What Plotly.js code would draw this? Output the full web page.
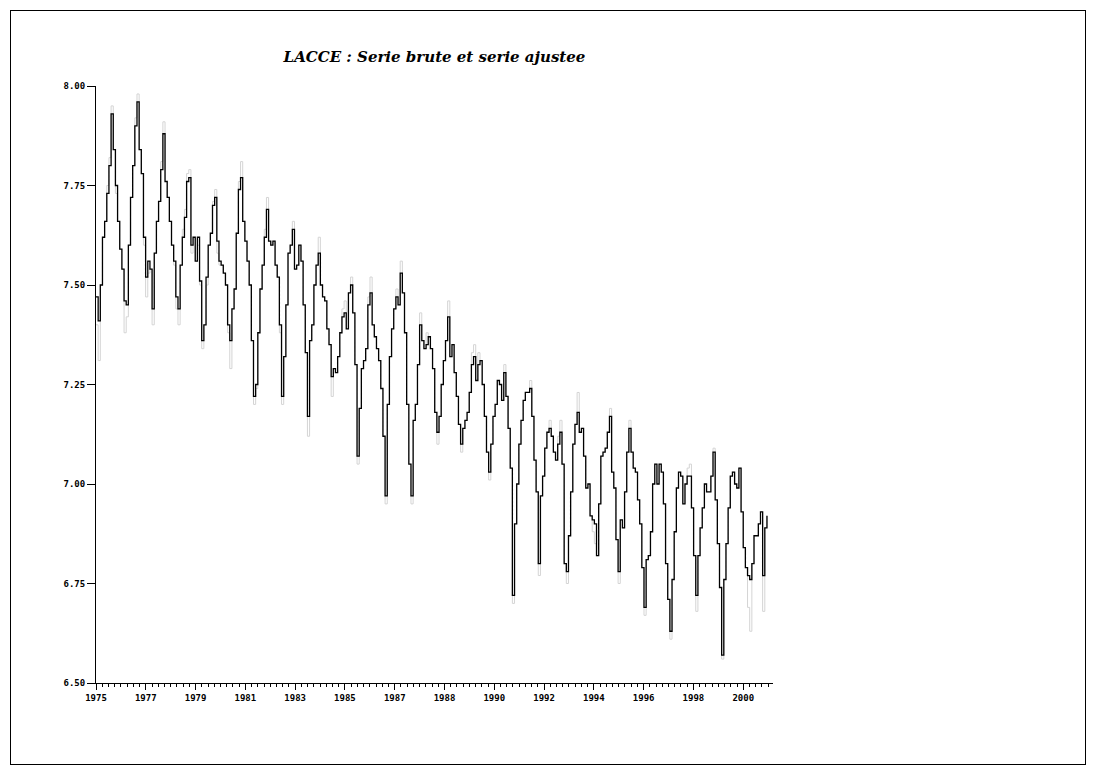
<!DOCTYPE html>
<html>
<head>
<meta charset="utf-8">
<script src="https://cdn.plot.ly/plotly-3.0.1.min.js"></script>
<style>
html,body{margin:0;padding:0;background:#fff;}
#wrap{position:relative;width:1095px;height:774px;}
#chart{position:absolute;left:0;top:0;width:1095px;height:774px;}
#frame{position:absolute;left:10px;top:10px;width:1074px;height:753px;border:1px solid #000;pointer-events:none;}
</style>
</head>
<body>
<div id="wrap"><div id="chart"></div><div id="frame"></div></div>
<script>
// Monthly series, January 1975 - December 2000
const startYear = 1975;

// Black line: "serie ajustee"
const serieAjustee = [
  7.47,7.41,7.50,7.62,7.66,7.73,7.80,7.93,7.84,7.75,7.66,7.59, // 1975
  7.54,7.46,7.45,7.60,7.72,7.80,7.90,7.96,7.84,7.78,7.62,7.52, // 1976
  7.56,7.54,7.44,7.58,7.66,7.71,7.79,7.88,7.76,7.72,7.66,7.60, // 1977
  7.56,7.47,7.44,7.55,7.62,7.67,7.76,7.77,7.60,7.62,7.56,7.62, // 1978
  7.51,7.36,7.40,7.52,7.60,7.63,7.70,7.72,7.61,7.56,7.55,7.53, // 1979
  7.50,7.40,7.36,7.44,7.49,7.63,7.74,7.77,7.66,7.61,7.56,7.50, // 1980
  7.36,7.22,7.25,7.38,7.49,7.55,7.62,7.69,7.61,7.60,7.61,7.55, // 1981
  7.52,7.40,7.22,7.32,7.45,7.58,7.60,7.64,7.54,7.55,7.60,7.56, // 1982
  7.45,7.33,7.17,7.36,7.40,7.50,7.55,7.58,7.50,7.47,7.46,7.39, // 1983
  7.35,7.27,7.29,7.28,7.32,7.38,7.42,7.43,7.39,7.48,7.50,7.43, // 1984
  7.30,7.07,7.19,7.29,7.31,7.34,7.45,7.48,7.40,7.37,7.34,7.31, // 1985
  7.24,7.12,6.97,7.20,7.32,7.39,7.44,7.47,7.45,7.53,7.48,7.38, // 1986
  7.20,7.05,6.97,7.16,7.20,7.30,7.40,7.36,7.34,7.35,7.37,7.34, // 1987
  7.29,7.18,7.13,7.17,7.25,7.31,7.36,7.42,7.32,7.35,7.28,7.22, // 1988
  7.15,7.10,7.14,7.16,7.18,7.23,7.30,7.32,7.26,7.30,7.31,7.25, // 1989
  7.17,7.08,7.03,7.10,7.17,7.20,7.26,7.25,7.21,7.28,7.22,7.14, // 1990
  7.04,6.72,6.90,7.00,7.10,7.16,7.21,7.23,7.23,7.24,7.17,7.06, // 1991
  6.98,6.80,6.97,7.02,7.09,7.13,7.14,7.12,7.08,7.06,7.10,7.13, // 1992
  7.05,6.80,6.78,6.87,6.98,7.10,7.15,7.18,7.13,7.14,7.07,6.99, // 1993
  7.00,6.92,6.91,6.90,6.82,6.95,7.07,7.08,7.09,7.13,7.17,7.03, // 1994
  6.99,6.86,6.78,6.91,6.89,6.98,7.08,7.14,7.08,7.04,7.03,6.96, // 1995
  6.90,6.79,6.69,6.81,6.82,6.88,7.00,7.05,7.00,7.05,7.03,6.95, // 1996
  6.80,6.71,6.63,6.76,6.88,6.99,7.03,7.02,6.95,7.00,7.02,7.02, // 1997
  6.94,6.82,6.72,6.82,6.89,6.94,7.00,6.98,6.98,7.02,7.08,6.96, // 1998
  6.85,6.74,6.57,6.76,6.85,6.94,7.02,7.03,7.00,6.99,7.04,6.93, // 1999
  6.84,6.79,6.77,6.76,6.80,6.87,6.87,6.90,6.93,6.77,6.89,6.92  // 2000
];

// Light grey line: "serie brute"
const serieBrute = [
  7.40,7.31,7.50,7.62,7.66,7.75,7.82,7.95,7.84,7.73,7.66,7.59, // 1975
  7.54,7.38,7.42,7.60,7.72,7.80,7.92,7.98,7.84,7.78,7.60,7.47, // 1976
  7.53,7.54,7.40,7.58,7.66,7.71,7.81,7.91,7.76,7.72,7.66,7.60, // 1977
  7.55,7.44,7.40,7.55,7.64,7.69,7.78,7.79,7.58,7.62,7.56,7.60, // 1978
  7.50,7.34,7.40,7.50,7.60,7.63,7.71,7.74,7.58,7.55,7.55,7.53, // 1979
  7.50,7.38,7.29,7.44,7.49,7.63,7.76,7.81,7.66,7.61,7.56,7.50, // 1980
  7.36,7.20,7.24,7.38,7.49,7.55,7.64,7.72,7.61,7.60,7.61,7.55, // 1981
  7.52,7.38,7.20,7.32,7.45,7.58,7.60,7.66,7.54,7.55,7.60,7.56, // 1982
  7.45,7.33,7.12,7.36,7.40,7.50,7.55,7.62,7.50,7.47,7.46,7.39, // 1983
  7.35,7.22,7.29,7.28,7.32,7.38,7.44,7.46,7.39,7.48,7.52,7.43, // 1984
  7.30,7.05,7.19,7.29,7.31,7.34,7.47,7.52,7.40,7.37,7.34,7.31, // 1985
  7.24,7.12,6.95,7.20,7.32,7.39,7.44,7.49,7.45,7.56,7.48,7.38, // 1986
  7.20,7.05,6.95,7.16,7.20,7.30,7.43,7.36,7.34,7.38,7.37,7.34, // 1987
  7.29,7.18,7.10,7.17,7.25,7.31,7.36,7.46,7.32,7.35,7.28,7.22, // 1988
  7.15,7.08,7.14,7.16,7.18,7.23,7.33,7.35,7.26,7.33,7.31,7.25, // 1989
  7.17,7.08,7.01,7.10,7.17,7.20,7.26,7.25,7.21,7.30,7.22,7.14, // 1990
  7.04,6.70,6.90,7.00,7.10,7.16,7.21,7.23,7.23,7.26,7.17,7.06, // 1991
  6.98,6.77,6.97,7.02,7.09,7.13,7.16,7.12,7.08,7.06,7.12,7.16, // 1992
  7.05,6.80,6.75,6.87,6.98,7.10,7.15,7.23,7.13,7.14,7.07,6.99, // 1993
  7.00,6.92,6.88,6.85,6.82,6.95,7.07,7.08,7.09,7.13,7.19,7.03, // 1994
  6.99,6.86,6.75,6.91,6.89,6.98,7.08,7.16,7.08,7.04,7.03,6.96, // 1995
  6.90,6.79,6.67,6.81,6.82,6.88,7.00,7.05,7.00,7.05,7.03,6.95, // 1996
  6.80,6.71,6.61,6.76,6.88,6.99,7.03,7.02,6.95,7.00,7.04,7.05, // 1997
  6.94,6.82,6.68,6.82,6.89,6.94,7.00,6.98,6.98,7.02,7.09,6.96, // 1998
  6.85,6.74,6.56,6.76,6.85,6.94,7.02,7.03,7.00,6.99,7.04,6.93, // 1999
  6.84,6.79,6.69,6.63,6.80,6.87,6.87,6.90,6.93,6.68,6.89,6.92  // 2000
];

// Axis ticks
const yTickVals = [6.50, 6.75, 7.00, 7.25, 7.50, 7.75, 8.00];
const yTickText = ["6.50", "6.75", "7.00", "7.25", "7.50", "7.75", "8.00"];
const xTickText = ["1975","1977","1979","1981","1983","1985","1987","1988","1990","1992","1994","1996","1998","2000"];
const xFirst = 1975, xLast = 2000;

const dates = serieAjustee.map((_, i) => startYear + i / 12);
const nInt = xTickText.length - 1;
const step = (xLast - xFirst) / nInt;
const xTickVals = xTickText.map((_, k) => xFirst + k * step);

const tickFont = {family: "DejaVu Sans Mono, monospace", size: 9, color: "#000", weight: 700};

const traces = [
  {x: dates, y: serieBrute, type: "scatter", mode: "lines", name: "serie brute",
   line: {color: "#d4d4d4", width: 1, shape: "hv"}, hoverinfo: "skip"},
  {x: dates, y: serieAjustee, type: "scatter", mode: "lines", name: "serie ajustee",
   line: {color: "#000000", width: 1.3, shape: "hv"}}
];

const layout = {
  width: 1095, height: 774,
  margin: {l: 96, r: 322, t: 86, b: 91},
  paper_bgcolor: "#fff", plot_bgcolor: "#fff",
  showlegend: false,
  title: {text: "LACCE : Serie brute et serie ajustee", x: 0.5, xref: "paper",
          y: 1 - 57/774, yref: "container", yanchor: "middle", xanchor: "center",
          font: {family: "DejaVu Serif, serif", size: 15, color: "#000", style: "italic", weight: 700}},
  xaxis: {range: [1975, 2001.15], showgrid: false, zeroline: false,
          showline: true, linecolor: "#000", linewidth: 1,
          ticks: "outside", ticklen: 6, tickcolor: "#000", tickwidth: 1,
          tickmode: "array", tickvals: xTickVals, ticktext: xTickText,
          tickfont: tickFont,
          minor: {ticks: "outside", ticklen: 3, tickcolor: "#000", tickwidth: 1,
                  tick0: xFirst, dtick: step / 8, showgrid: false}},
  yaxis: {range: [6.5, 8.0], showgrid: false, zeroline: false,
          showline: true, linecolor: "#000", linewidth: 1,
          ticks: "outside", ticklen: 8, tickcolor: "#000", tickwidth: 1,
          tickmode: "array", tickvals: yTickVals, ticktext: yTickText,
          tickfont: tickFont}
};

Plotly.newPlot("chart", traces, layout, {displayModeBar: false, staticPlot: true});
</script>
</body>
</html>
